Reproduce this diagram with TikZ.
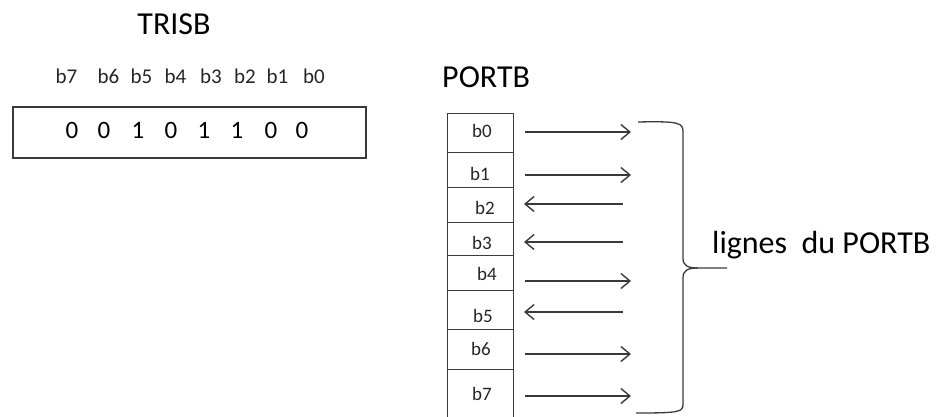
\documentclass[tikz,border=0pt]{standalone}
\usepackage{fontspec}
\setmainfont{Carlito}
\usetikzlibrary{arrows.meta}
\definecolor{ink}{HTML}{3A3A3A}
\tikzset{
  title/.style={font=\fontsize{32}{32}\selectfont, anchor=base, inner sep=0},
  bitname/.style={font=\fontsize{21}{21}\selectfont, anchor=base, inner sep=0, text=black!85},
  digit/.style={font=\fontsize{25}{25}\selectfont, anchor=base, inner sep=0},
  cellname/.style={font=\fontsize{19}{19}\selectfont, anchor=base, inner sep=0, text=black!85},
  regbox/.style={draw=ink, line width=1.6pt, inner sep=0, anchor=north west},
  cellbox/.style={draw=ink, line width=1.4pt, inner sep=0, anchor=north west, minimum width=66pt},
  portline/.style={draw=ink, line width=1.4pt, -{Straight Barb[length=9pt,width=15pt,line width=1.4pt]}},
  bracket/.style={draw=ink, line width=1.3pt}
}
\begin{document}
\begin{tikzpicture}[x=1pt,y=-1pt]
\useasboundingbox (0,0) rectangle (936,416);

% ---- TRISB register ----
\node[title] (trisb) at (174,34) {TRISB};
\foreach \n/\x in {7/66.5,6/108.5,5/141.5,4/175.5,3/211,2/245,1/277.5,0/314}
  \node[bitname] (t\n) at (\x,83) {b\n};
\node[regbox, minimum width=353pt, minimum height=51pt] (reg) at (12,106) {};
\foreach \v/\x [count=\i] in {0/72,0/104,1/138,0/171,1/204,1/237,0/271,0/302}
  \node[digit] (d\i) at (\x,138) {\v};

% ---- PORTB lines ----
\node[title, anchor=base west] (portb) at (442,87) {PORTB};
\foreach \n/\top/\h in {0/113/39,1/152/35,2/187/35,3/222/33,4/255/35,5/290/39,6/329/40,7/369/60}
  \node[cellbox, minimum height=\h pt] (c\n) at (447,\top) {};
\foreach \n/\x/\y in {0/482/137,1/480/180,2/485/214,3/482/249,4/487/280,5/483/322,6/481/355,7/482/400}
  \node[cellname] (n\n) at (\x,\y) {b\n};

% direction of each line: outputs point right, inputs point left
\foreach \n/\y in {0/132,1/175,4/281,6/354,7/396}{
  \coordinate (s\n) at (525,\y);
  \coordinate (e\n) at (631,\y);
  \draw[portline] (s\n) -- (e\n);
}
\foreach \n/\y in {2/204,3/242,5/312}{
  \coordinate (s\n) at (623,\y);
  \coordinate (e\n) at (524,\y);
  \draw[portline] (s\n) -- (e\n);
}

% ---- brace grouping the lines ----
\coordinate (bt) at (638,122);
\coordinate (bm) at (727,268);
\coordinate (bb) at (636,413);
\draw[bracket] (bt) .. controls (680,121) and (683,123) .. (683,132)
  -- (683,258) .. controls (683,266) and (688,268) .. (698,268) -- (bm);
\draw[bracket] (698,268) .. controls (688,268) and (683,270) .. (683,278)
  -- (683,404) .. controls (683,412) and (680,413) .. (bb);
\node[title, anchor=base west] (lignes) at (712,253) {lignes\ \ du PORTB};
\end{tikzpicture}
\end{document}
